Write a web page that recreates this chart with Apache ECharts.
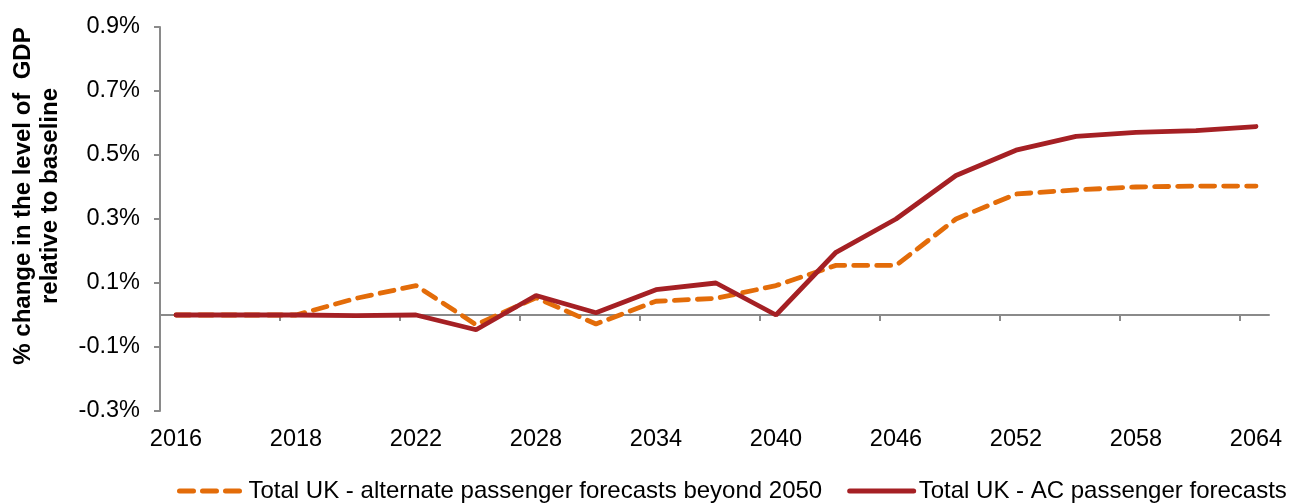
<!DOCTYPE html>
<html>
<head>
    <meta charset="UTF-8">
    <title>GDP change</title>
    <script src="https://cdn.jsdelivr.net/npm/echarts@6/dist/echarts.min.js"></script>
    <style>
        body { margin: 0; padding: 0; background: #fff; }
        #echart { width: 1303px; height: 503px; }
    </style>
</head>
<body>
<div id="echart"></div>
<script>
    // one entry per plotted point; only every second one gets a label
    const years = ['2016', '2017', '2018', '2020', '2022', '2025', '2028', '2031', '2034', '2037',
        '2040', '2043', '2046', '2049', '2052', '2055', '2058', '2061', '2064'];
    const labelIdx = [0, 2, 4, 6, 8, 10, 12, 14, 16, 18];
    const altForecast = [0, 0, 0, 0.052, 0.092, -0.03, 0.054, -0.028, 0.043, 0.052,
        0.092, 0.155, 0.155, 0.30, 0.378, 0.391, 0.40, 0.403, 0.403];
    const acForecast = [0, 0, 0, -0.002, 0, -0.046, 0.061, 0.007, 0.079, 0.10,
        0, 0.196, 0.30, 0.436, 0.515, 0.558, 0.571, 0.576, 0.589];
    const yTicks = [-0.3, -0.1, 0.1, 0.3, 0.5, 0.7, 0.9];
    const seriesNames = ['Total UK - alternate passenger forecasts beyond 2050', 'Total UK - AC passenger forecasts'];

    const xMin = -16 / 60, xMax = 1093 / 60;
    const xTickVals = [0, 1, 2, 3, 4, 5, 6, 7, 8, 9].map(k => xMin + 2 * k);
    const grey = '#8a8a8a';
    const font = 'Liberation Sans, Arial, sans-serif';

    const ec = echarts.init(document.getElementById('echart'));
    ec.setOption({
        animation: false,
        textStyle: { fontFamily: font },
        grid: { left: 160, right: 34, top: 27, bottom: 92 },
        xAxis: [
            {   // zero line with ticks
                type: 'value', position: 'bottom', min: xMin, max: xMax,
                axisLine: { onZero: true, lineStyle: { color: grey, width: 2 } },
                axisTick: { show: true, length: 6, customValues: xTickVals, lineStyle: { color: grey, width: 2 } },
                axisLabel: { show: false },
                splitLine: { show: false }
            },
            {   // labels at the bottom
                type: 'value', position: 'bottom', min: xMin, max: xMax,
                axisLine: { show: false, onZero: false },
                axisTick: { show: false },
                splitLine: { show: false },
                axisLabel: {
                    customValues: labelIdx, margin: 17, color: '#000', fontSize: 23.5, fontFamily: font,
                    formatter: v => years[Math.round(v)]
                }
            }
        ],
        yAxis: {
            type: 'value', min: -0.3, max: 0.9, interval: 0.2,
            axisLine: { show: true, onZero: false, lineStyle: { color: grey, width: 2 } },
            axisTick: { show: true, length: 6, customValues: yTicks, lineStyle: { color: grey, width: 2 } },
            splitLine: { show: false },
            axisLabel: {
                customValues: yTicks, margin: 20, color: '#000', fontSize: 23.5, fontFamily: font,
                formatter: v => v.toFixed(1) + '%'
            }
        },
        graphic: [{
            type: 'text', x: 37, y: 196, rotation: Math.PI / 2,
            style: {
                text: '% change in the level of  GDP\nrelative to baseline',
                x: 0, y: 0, align: 'center', verticalAlign: 'middle',
                font: 'bold 24px ' + font, lineHeight: 27, fill: '#000'
            }
        }],
        legend: {
            left: 172, top: 474, itemWidth: 64, itemHeight: 14, itemGap: 25,
            textStyle: { fontSize: 24, color: '#000', fontFamily: font },
            lineStyle: { width: 5 },
            itemStyle: { opacity: 0 },
            data: seriesNames
        },
        series: [
            {
                name: seriesNames[0], type: 'line', xAxisIndex: 1, symbol: 'none',
                data: altForecast.map((v, i) => [i, v]),
                lineStyle: { color: '#E36C09', width: 4.8, type: [14, 9], cap: 'round' },
                itemStyle: { color: '#E36C09' }
            },
            {
                name: seriesNames[1], type: 'line', xAxisIndex: 1, symbol: 'none',
                data: acForecast.map((v, i) => [i, v]),
                lineStyle: { color: '#A52024', width: 4.8, cap: 'round' },
                itemStyle: { color: '#A52024' }
            }
        ]
    });
</script>
</body>
</html>
